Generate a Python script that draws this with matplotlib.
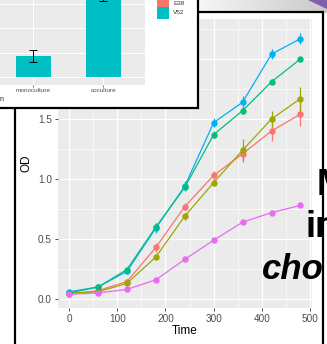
"""
Screenshot-style collage: growth curves (OD vs Time) under a clipped bar panel
"""
import numpy as np
import matplotlib
matplotlib.use("Agg")
import matplotlib.pyplot as plt
from matplotlib.patches import Rectangle, Polygon

plt.rcParams["font.family"] = ["Liberation Sans", "DejaVu Sans"]

W, H = 327, 344

# ---- data: growth curves ----
time = [0, 60, 120, 180, 240, 300, 360, 420, 480]
od_red = [0.04, 0.07, 0.145, 0.43, 0.77, 1.03, 1.21, 1.40, 1.54]
od_olive = [0.05, 0.06, 0.13, 0.35, 0.69, 0.97, 1.24, 1.50, 1.67]
od_blue = [0.06, 0.10, 0.23, 0.59, 0.94, 1.47, 1.64, 2.04, 2.17]
od_green = [0.05, 0.10, 0.245, 0.60, 0.93, 1.37, 1.57, 1.81, 2.00]
od_pink = [0.04, 0.05, 0.08, 0.16, 0.33, 0.49, 0.64, 0.72, 0.78]
err_red = [0.005, 0.01, 0.02, 0.04, 0.03, 0.04, 0.07, 0.08, 0.10]
err_olive = [0.005, 0.01, 0.01, 0.02, 0.03, 0.03, 0.09, 0.07, 0.10]
err_blue = [0.01, 0.01, 0.02, 0.04, 0.04, 0.04, 0.05, 0.04, 0.045]
err_green = [0.01, 0.01, 0.02, 0.03, 0.02, 0.03, 0.03, 0.02, 0.02]
err_pink = [0.005, 0.005, 0.01, 0.01, 0.01, 0.01, 0.01, 0.01, 0.01]
x_ticks = [0, 100, 200, 300, 400, 500]
y_ticks = [0.0, 0.5, 1.0, 1.5, 2.0]

# ---- data: bar panel ----
conditions = ["monoculture", "coculture"]
bar_vals = [0.87, 3.35]
bar_errs = [0.26, 0.23]
legend_labels = ["E38", "V52"]

series = [
    (od_red, err_red, "#F8766D"),
    (od_olive, err_olive, "#A3A500"),
    (od_blue, err_blue, "#00B0F6"),
    (od_green, err_green, "#00BF7D"),
    (od_pink, err_pink, "#E76BF3"),
]


def rect(x0, y0, x1, y1):
    """pixel box (top-left origin) -> figure fraction"""
    return [x0 / W, 1 - y1 / H, (x1 - x0) / W, (y1 - y0) / H]


def fx(x):
    return x / W


def fy(y):
    return 1 - y / H


fig = plt.figure(figsize=(W / 100, H / 100), dpi=100)
fig.patch.set_facecolor("white")

# slide background strip with purple corner
ax_bg = fig.add_axes(rect(198, 0, 327, 13), zorder=0.2)
grad = np.linspace(0, 1, 256)[None, :]
ax_bg.imshow(grad, cmap=matplotlib.colors.LinearSegmentedColormap.from_list(
    "g", ["#f6f6f6", "#c9c9c9"]), aspect="auto", extent=[0, 1, 0, 1])
ax_bg.add_patch(Polygon([[0.85, 1], [1, 1], [1, 0.3]], closed=True,
                        facecolor="#7e5fad", edgecolor="none"))
ax_bg.set_xlim(0, 1)
ax_bg.set_ylim(0, 1)
ax_bg.axis("off")

# main panel frame
fig.add_artist(Rectangle((fx(15), fy(350)), fx(323) - fx(15), fy(12) - fy(350),
                         transform=fig.transFigure, facecolor="white",
                         edgecolor="black", linewidth=1.6, zorder=0.5))

# ============================================================
# growth curve plot
# ============================================================
ax = fig.add_axes(rect(57.5, 18.5, 312, 308), zorder=1)
ax.set_facecolor("#EBEBEB")
for s in ax.spines.values():
    s.set_visible(False)
ax.set_xlim(-24, 504)
ax.set_ylim(-0.075, 2.3375)
ax.set_xticks(x_ticks)
ax.set_yticks(y_ticks)
ax.set_xticks([50, 150, 250, 350, 450], minor=True)
ax.set_yticks([0.25, 0.75, 1.25, 1.75, 2.25], minor=True)
ax.set_yticklabels([f"{v:.1f}" for v in y_ticks])
ax.tick_params(which="major", length=2.5, width=0.6, color="#333333",
               labelsize=7.2, labelcolor="#4d4d4d", pad=1.5)
ax.tick_params(which="minor", length=0)
ax.grid(which="major", color="white", linewidth=0.9)
ax.grid(which="minor", color="white", linewidth=0.45)
ax.set_axisbelow(True)

for vals, errs, col in series:
    ax.errorbar(time, vals, yerr=errs, color=col, linewidth=0.9,
                elinewidth=0.9, capsize=0, marker="o", markersize=4.6,
                markeredgewidth=0)

fig.text(fx(27), fy(163), "OD", rotation=90, ha="center", va="center",
         fontsize=8.5, zorder=1.5)
fig.text(fx(185), fy(331.5), "Time", ha="center", va="center",
         fontsize=8.5, zorder=1.5)

# ============================================================
# bar panel on top
# ============================================================
fig.add_artist(Rectangle((fx(-5), fy(108)), fx(198) - fx(-5), fy(-5) - fy(108),
                         transform=fig.transFigure, facecolor="white",
                         edgecolor="black", linewidth=1.6, zorder=2))

axb = fig.add_axes(rect(-8.7, -50, 145, 85), zorder=3)
axb.set_facecolor("#EBEBEB")
for s in axb.spines.values():
    s.set_visible(False)
axb.set_xlim(0.4, 2.6)
axb.set_ylim(-(85 - 77.3) / 24.6, (77.3 + 50) / 24.6)
axb.bar([1, 2], bar_vals, width=0.5, color="#00BFC4", zorder=2)
axb.errorbar([1, 2], bar_vals, yerr=bar_errs, fmt="none", ecolor="black",
             elinewidth=0.7, capsize=3.2, capthick=0.7, zorder=3)
axb.set_xticks([1, 2])
axb.set_xticklabels(conditions)
axb.set_yticks([0, 1, 2, 3, 4, 5])
axb.set_yticklabels([])
axb.tick_params(axis="x", length=1.5, width=0.5, color="#333333",
                labelsize=4.6, labelcolor="#4d4d4d", pad=1)
axb.tick_params(axis="y", length=0)
axb.grid(color="white", linewidth=0.7)
axb.set_axisbelow(True)

fig.text(fx(0), fy(99.5), "n", ha="left", va="center", fontsize=5,
         color="#222222", zorder=3)

# legend keys
key_cols = ["#F8766D", "#00BFC4"]
key_y = [-3, 6.7]
for col, y0, lab in zip(key_cols, key_y, legend_labels):
    fig.add_artist(Rectangle((fx(156.7), fy(y0 + 12.3)), fx(12.3), fy(0) - fy(12.3),
                             transform=fig.transFigure, facecolor=col,
                             edgecolor="none", zorder=3))
    fig.text(fx(173), fy(y0 + 6.2), lab, ha="left", va="center", fontsize=4.6,
             color="#333333", zorder=3)

# slide title fragments overlapping on the right
fig.text(fx(316.5), fy(195), "M", ha="left", va="baseline", fontsize=26,
         fontweight="bold", zorder=5)
fig.text(fx(305), fy(236.7), "in", ha="left", va="baseline", fontsize=26,
         fontweight="bold", zorder=5)
fig.text(fx(262), fy(279), "cho", ha="left", va="baseline", fontsize=25,
         fontweight="bold", fontstyle="italic", zorder=5)

fig.savefig("out.png", dpi=100)
